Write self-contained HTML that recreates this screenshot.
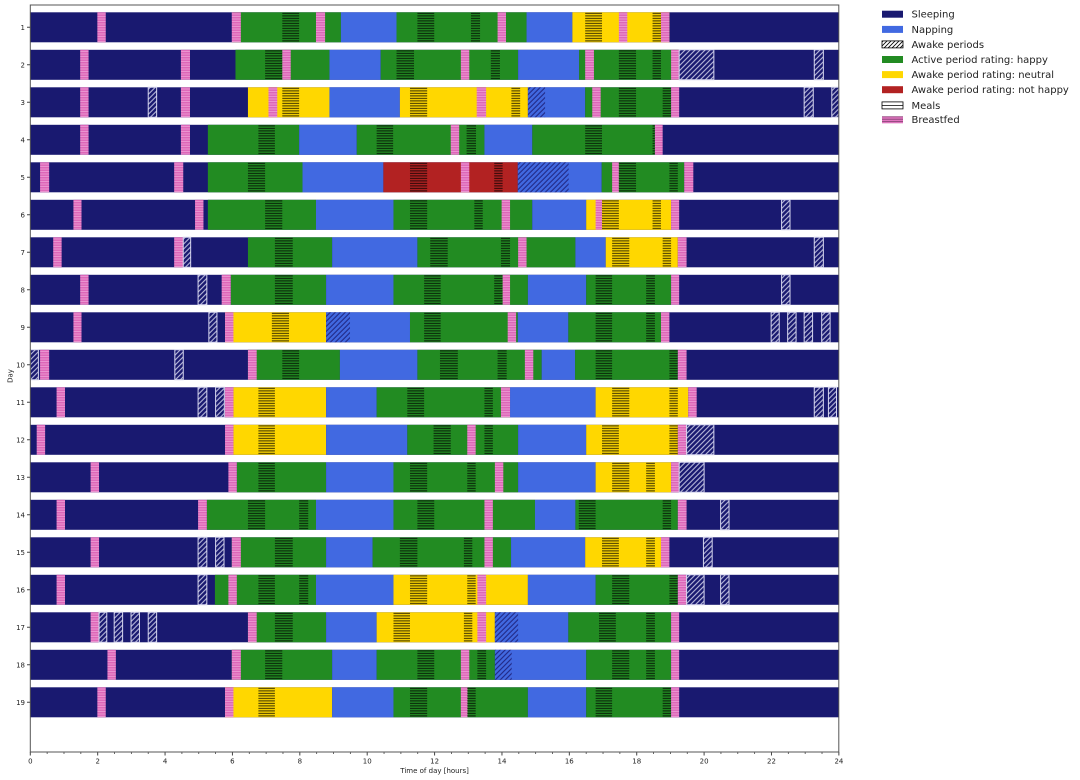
<!DOCTYPE html>
<html><head><meta charset="utf-8">
<style>
html,body{margin:0;padding:0;background:#fff;}
svg{display:block;}
.S{fill:#191970}.N{fill:#4169e1}.G{fill:#228b22}.Y{fill:#ffd700}.R{fill:#b22222}
.M{fill:url(#meal)}.B{fill:url(#bf)}
.A{fill:url(#awS);stroke:#d6d6ee;stroke-width:1;vector-effect:non-scaling-stroke}
.AN{fill:url(#awN)}
.t{font-family:"DejaVu Sans","Liberation Sans",sans-serif;font-size:7px;fill:#222}
.lg{font-family:"DejaVu Sans","Liberation Sans",sans-serif;font-size:10px;fill:#222}
</style></head>
<body>
<svg width="1080" height="780" viewBox="0 0 1080 780" xmlns="http://www.w3.org/2000/svg">
<defs>
<pattern id="meal" patternUnits="userSpaceOnUse" width="10" height="2.5" patternTransform="scale(0.029682,1)">
<rect x="0" y="0.6" width="10" height="1" fill="#000" fill-opacity="0.8"/></pattern>
<pattern id="bf" patternUnits="userSpaceOnUse" width="10" height="2.5" patternTransform="scale(0.029682,1)">
<rect x="0" y="0" width="10" height="2.5" fill="#dd66b8"/><rect x="0" y="1.4" width="10" height="0.6" fill="#f4b8e2"/></pattern>
<pattern id="awS" patternUnits="userSpaceOnUse" width="5" height="5" patternTransform="scale(0.029682,1)">
<path d="M-1,6 L6,-1 M-1,1 L1,-1 M4,6 L6,4" stroke="#dcdcf2" stroke-width="0.9" fill="none"/></pattern>
<pattern id="awN" patternUnits="userSpaceOnUse" width="5" height="5" patternTransform="scale(0.029682,1)">
<path d="M-1,6 L6,-1 M-1,1 L1,-1 M4,6 L6,4" stroke="#191970" stroke-width="0.9" fill="none"/></pattern>
<pattern id="awL" patternUnits="userSpaceOnUse" width="4" height="4">
<path d="M-1,5 L5,-1 M-1,1 L1,-1 M3,5 L5,3" stroke="#000" stroke-width="0.8" fill="none"/></pattern>
<pattern id="bfL" patternUnits="userSpaceOnUse" width="4" height="2.4">
<rect width="4" height="2.4" fill="#e377c2"/><rect y="1.2" width="4" height="0.8" fill="#7a3a6a"/></pattern>
</defs>

<g transform="translate(30.3,0) scale(33.69,1)">
<!-- Row 1 -->
<g transform="translate(0,12.3)">
<rect class="S" x="0" width="24" height="30"/>
<rect class="G" x="6.0" width="3.22" height="30"/><rect class="N" x="9.22" width="1.65" height="30"/><rect class="G" x="10.87" width="3.86" height="30"/><rect class="N" x="14.73" width="1.36" height="30"/><rect class="Y" x="16.09" width="2.88" height="30"/>
<rect class="B" x="1.99" width="0.25" height="30"/><rect class="B" x="5.98" width="0.27" height="30"/><rect class="M" x="7.48" width="0.5" height="30"/><rect class="B" x="8.48" width="0.27" height="30"/><rect class="M" x="11.49" width="0.5" height="30"/><rect class="M" x="13.08" width="0.27" height="30"/><rect class="B" x="13.87" width="0.25" height="30"/><rect class="M" x="16.47" width="0.5" height="30"/><rect class="B" x="17.47" width="0.25" height="30"/><rect class="M" x="18.47" width="0.25" height="30"/><rect class="B" x="18.72" width="0.25" height="30"/>
</g>
<!-- Row 2 -->
<g transform="translate(0,49.8)">
<rect class="S" x="0" width="24" height="30"/>
<rect class="G" x="6.09" width="2.79" height="30"/><rect class="N" x="8.88" width="1.52" height="30"/><rect class="G" x="10.4" width="4.08" height="30"/><rect class="N" x="14.48" width="1.81" height="30"/><rect class="G" x="16.29" width="2.97" height="30"/>
<rect class="B" x="1.48" width="0.25" height="30"/><rect class="B" x="4.47" width="0.27" height="30"/><rect class="M" x="6.97" width="0.51" height="30"/><rect class="B" x="7.48" width="0.25" height="30"/><rect class="M" x="10.87" width="0.52" height="30"/><rect class="B" x="12.78" width="0.25" height="30"/><rect class="M" x="13.67" width="0.27" height="30"/><rect class="B" x="16.47" width="0.26" height="30"/><rect class="M" x="17.47" width="0.51" height="30"/><rect class="M" x="18.47" width="0.25" height="30"/><rect class="B" x="19.02" width="0.24" height="30"/><rect class="A" x="19.26" width="1.03" height="30"/><rect class="A" x="23.27" width="0.27" height="30"/>
</g>
<!-- Row 3 -->
<g transform="translate(0,87.3)">
<rect class="S" x="0" width="24" height="30"/>
<rect class="Y" x="6.46" width="2.42" height="30"/><rect class="N" x="8.88" width="2.09" height="30"/><rect class="Y" x="10.97" width="3.8" height="30"/><rect class="N" x="14.77" width="1.7" height="30"/><rect class="G" x="16.47" width="2.55" height="30"/>
<rect class="B" x="1.48" width="0.25" height="30"/><rect class="A" x="3.5" width="0.25" height="30"/><rect class="B" x="4.47" width="0.27" height="30"/><rect class="B" x="7.07" width="0.26" height="30"/><rect class="M" x="7.48" width="0.5" height="30"/><rect class="M" x="11.27" width="0.51" height="30"/><rect class="B" x="13.25" width="0.28" height="30"/><rect class="M" x="14.28" width="0.26" height="30"/><rect class="AN" x="14.77" width="0.51" height="30"/><rect class="B" x="16.68" width="0.25" height="30"/><rect class="M" x="17.47" width="0.51" height="30"/><rect class="M" x="18.77" width="0.25" height="30"/><rect class="B" x="19.02" width="0.24" height="30"/><rect class="A" x="22.97" width="0.27" height="30"/><rect class="A" x="23.79" width="0.21" height="30"/>
</g>
<!-- Row 4 -->
<g transform="translate(0,124.8)">
<rect class="S" x="0" width="24" height="30"/>
<rect class="G" x="5.27" width="2.71" height="30"/><rect class="N" x="7.98" width="1.71" height="30"/><rect class="G" x="9.69" width="3.79" height="30"/><rect class="N" x="13.48" width="1.42" height="30"/><rect class="G" x="14.9" width="3.64" height="30"/>
<rect class="B" x="1.48" width="0.25" height="30"/><rect class="B" x="4.47" width="0.27" height="30"/><rect class="M" x="6.77" width="0.49" height="30"/><rect class="M" x="10.28" width="0.49" height="30"/><rect class="B" x="12.48" width="0.25" height="30"/><rect class="M" x="12.95" width="0.28" height="30"/><rect class="M" x="16.47" width="0.5" height="30"/><rect class="M" x="18.47" width="0.08" height="30"/><rect class="B" x="18.54" width="0.23" height="30"/>
</g>
<!-- Row 5 -->
<g transform="translate(0,162.3)">
<rect class="S" x="0" width="24" height="30"/>
<rect class="G" x="5.27" width="2.81" height="30"/><rect class="N" x="8.08" width="2.4" height="30"/><rect class="R" x="10.48" width="3.99" height="30"/><rect class="N" x="14.47" width="2.49" height="30"/><rect class="G" x="16.96" width="2.45" height="30"/>
<rect class="B" x="0.29" width="0.27" height="30"/><rect class="B" x="4.27" width="0.27" height="30"/><rect class="M" x="6.46" width="0.51" height="30"/><rect class="M" x="11.27" width="0.51" height="30"/><rect class="B" x="12.78" width="0.25" height="30"/><rect class="M" x="13.77" width="0.25" height="30"/><rect class="AN" x="14.47" width="1.51" height="30"/><rect class="B" x="17.27" width="0.2" height="30"/><rect class="M" x="17.47" width="0.51" height="30"/><rect class="M" x="18.97" width="0.25" height="30"/><rect class="B" x="19.41" width="0.27" height="30"/>
</g>
<!-- Row 6 -->
<g transform="translate(0,199.8)">
<rect class="S" x="0" width="24" height="30"/>
<rect class="G" x="5.27" width="3.21" height="30"/><rect class="N" x="8.48" width="2.3" height="30"/><rect class="G" x="10.78" width="4.12" height="30"/><rect class="N" x="14.9" width="1.6" height="30"/><rect class="Y" x="16.5" width="2.52" height="30"/>
<rect class="B" x="1.28" width="0.24" height="30"/><rect class="B" x="4.89" width="0.25" height="30"/><rect class="M" x="6.97" width="0.51" height="30"/><rect class="M" x="11.27" width="0.51" height="30"/><rect class="M" x="13.18" width="0.25" height="30"/><rect class="B" x="13.99" width="0.25" height="30"/><rect class="B" x="16.78" width="0.19" height="30"/><rect class="M" x="16.97" width="0.5" height="30"/><rect class="M" x="18.47" width="0.25" height="30"/><rect class="B" x="19.02" width="0.24" height="30"/><rect class="A" x="22.3" width="0.25" height="30"/>
</g>
<!-- Row 7 -->
<g transform="translate(0,237.3)">
<rect class="S" x="0" width="24" height="30"/>
<rect class="G" x="6.46" width="2.5" height="30"/><rect class="N" x="8.96" width="2.53" height="30"/><rect class="G" x="11.49" width="4.69" height="30"/><rect class="N" x="16.18" width="0.9" height="30"/><rect class="Y" x="17.08" width="2.14" height="30"/>
<rect class="B" x="0.68" width="0.25" height="30"/><rect class="B" x="4.27" width="0.27" height="30"/><rect class="A" x="4.54" width="0.22" height="30"/><rect class="M" x="7.26" width="0.53" height="30"/><rect class="M" x="11.87" width="0.52" height="30"/><rect class="M" x="13.97" width="0.27" height="30"/><rect class="B" x="14.48" width="0.25" height="30"/><rect class="M" x="17.27" width="0.51" height="30"/><rect class="M" x="18.77" width="0.25" height="30"/><rect class="B" x="19.22" width="0.26" height="30"/><rect class="A" x="23.27" width="0.27" height="30"/>
</g>
<!-- Row 8 -->
<g transform="translate(0,274.8)">
<rect class="S" x="0" width="24" height="30"/>
<rect class="G" x="5.95" width="2.83" height="30"/><rect class="N" x="8.78" width="2.0" height="30"/><rect class="G" x="10.78" width="3.99" height="30"/><rect class="N" x="14.77" width="1.73" height="30"/><rect class="G" x="16.5" width="2.52" height="30"/>
<rect class="B" x="1.48" width="0.25" height="30"/><rect class="A" x="4.98" width="0.26" height="30"/><rect class="B" x="5.68" width="0.27" height="30"/><rect class="M" x="7.26" width="0.53" height="30"/><rect class="M" x="11.69" width="0.49" height="30"/><rect class="M" x="13.77" width="0.25" height="30"/><rect class="B" x="14.02" width="0.22" height="30"/><rect class="M" x="16.78" width="0.49" height="30"/><rect class="M" x="18.28" width="0.26" height="30"/><rect class="B" x="19.02" width="0.24" height="30"/><rect class="A" x="22.3" width="0.25" height="30"/>
</g>
<!-- Row 9 -->
<g transform="translate(0,312.3)">
<rect class="S" x="0" width="24" height="30"/>
<rect class="Y" x="5.78" width="3.0" height="30"/><rect class="N" x="8.78" width="2.49" height="30"/><rect class="G" x="11.27" width="3.2" height="30"/><rect class="N" x="14.47" width="1.5" height="30"/><rect class="G" x="15.97" width="2.75" height="30"/>
<rect class="B" x="1.28" width="0.24" height="30"/><rect class="A" x="5.3" width="0.24" height="30"/><rect class="B" x="5.78" width="0.25" height="30"/><rect class="M" x="7.17" width="0.51" height="30"/><rect class="AN" x="8.78" width="0.71" height="30"/><rect class="M" x="11.69" width="0.49" height="30"/><rect class="B" x="14.17" width="0.25" height="30"/><rect class="M" x="16.78" width="0.49" height="30"/><rect class="M" x="18.28" width="0.26" height="30"/><rect class="B" x="18.72" width="0.25" height="30"/><rect class="A" x="21.99" width="0.24" height="30"/><rect class="A" x="22.48" width="0.25" height="30"/><rect class="A" x="22.97" width="0.25" height="30"/><rect class="A" x="23.49" width="0.25" height="30"/>
</g>
<!-- Row 10 -->
<g transform="translate(0,349.8)">
<rect class="S" x="0" width="24" height="30"/>
<rect class="G" x="6.46" width="2.73" height="30"/><rect class="N" x="9.19" width="2.3" height="30"/><rect class="G" x="11.49" width="3.69" height="30"/><rect class="N" x="15.18" width="0.99" height="30"/><rect class="G" x="16.17" width="3.05" height="30"/>
<rect class="A" x="0" width="0.24" height="30"/><rect class="B" x="0.29" width="0.27" height="30"/><rect class="A" x="4.29" width="0.25" height="30"/><rect class="B" x="6.46" width="0.26" height="30"/><rect class="M" x="7.48" width="0.5" height="30"/><rect class="M" x="12.16" width="0.53" height="30"/><rect class="M" x="13.87" width="0.27" height="30"/><rect class="B" x="14.68" width="0.25" height="30"/><rect class="M" x="16.78" width="0.49" height="30"/><rect class="M" x="18.97" width="0.25" height="30"/><rect class="B" x="19.22" width="0.26" height="30"/>
</g>
<!-- Row 11 -->
<g transform="translate(0,387.3)">
<rect class="S" x="0" width="24" height="30"/>
<rect class="Y" x="6.03" width="2.75" height="30"/><rect class="N" x="8.78" width="1.5" height="30"/><rect class="G" x="10.28" width="3.96" height="30"/><rect class="N" x="14.24" width="2.54" height="30"/><rect class="Y" x="16.78" width="2.75" height="30"/>
<rect class="B" x="0.78" width="0.25" height="30"/><rect class="A" x="4.98" width="0.26" height="30"/><rect class="A" x="5.5" width="0.26" height="30"/><rect class="B" x="5.78" width="0.25" height="30"/><rect class="M" x="6.77" width="0.49" height="30"/><rect class="M" x="11.19" width="0.5" height="30"/><rect class="M" x="13.48" width="0.25" height="30"/><rect class="B" x="13.97" width="0.27" height="30"/><rect class="M" x="17.27" width="0.51" height="30"/><rect class="M" x="18.97" width="0.25" height="30"/><rect class="B" x="19.53" width="0.25" height="30"/><rect class="A" x="23.27" width="0.27" height="30"/><rect class="A" x="23.69" width="0.24" height="30"/>
</g>
<!-- Row 12 -->
<g transform="translate(0,424.8)">
<rect class="S" x="0" width="24" height="30"/>
<rect class="Y" x="6.03" width="2.75" height="30"/><rect class="N" x="8.78" width="2.41" height="30"/><rect class="G" x="11.19" width="3.29" height="30"/><rect class="N" x="14.48" width="2.02" height="30"/><rect class="Y" x="16.5" width="2.72" height="30"/>
<rect class="B" x="0.19" width="0.25" height="30"/><rect class="B" x="5.78" width="0.25" height="30"/><rect class="M" x="6.77" width="0.49" height="30"/><rect class="M" x="11.97" width="0.51" height="30"/><rect class="B" x="12.97" width="0.25" height="30"/><rect class="M" x="13.48" width="0.25" height="30"/><rect class="M" x="16.97" width="0.5" height="30"/><rect class="M" x="18.97" width="0.25" height="30"/><rect class="B" x="19.22" width="0.26" height="30"/><rect class="A" x="19.48" width="0.81" height="30"/>
</g>
<!-- Row 13 -->
<g transform="translate(0,462.3)">
<rect class="S" x="0" width="24" height="30"/>
<rect class="G" x="6.13" width="2.65" height="30"/><rect class="N" x="8.78" width="2.0" height="30"/><rect class="G" x="10.78" width="3.7" height="30"/><rect class="N" x="14.48" width="2.3" height="30"/><rect class="Y" x="16.78" width="2.24" height="30"/>
<rect class="B" x="1.79" width="0.25" height="30"/><rect class="B" x="5.88" width="0.25" height="30"/><rect class="M" x="6.77" width="0.49" height="30"/><rect class="M" x="11.27" width="0.51" height="30"/><rect class="M" x="12.97" width="0.25" height="30"/><rect class="B" x="13.79" width="0.25" height="30"/><rect class="M" x="17.27" width="0.51" height="30"/><rect class="M" x="18.28" width="0.26" height="30"/><rect class="B" x="19.02" width="0.24" height="30"/><rect class="A" x="19.26" width="0.74" height="30"/>
</g>
<!-- Row 14 -->
<g transform="translate(0,499.8)">
<rect class="S" x="0" width="24" height="30"/>
<rect class="G" x="5.24" width="3.24" height="30"/><rect class="N" x="8.48" width="2.3" height="30"/><rect class="G" x="10.78" width="4.2" height="30"/><rect class="N" x="14.98" width="1.2" height="30"/><rect class="G" x="16.18" width="3.04" height="30"/>
<rect class="B" x="0.78" width="0.25" height="30"/><rect class="B" x="4.98" width="0.26" height="30"/><rect class="M" x="6.46" width="0.51" height="30"/><rect class="M" x="7.98" width="0.27" height="30"/><rect class="M" x="11.49" width="0.5" height="30"/><rect class="B" x="13.48" width="0.25" height="30"/><rect class="M" x="16.28" width="0.5" height="30"/><rect class="M" x="18.77" width="0.25" height="30"/><rect class="B" x="19.22" width="0.26" height="30"/><rect class="A" x="20.49" width="0.25" height="30"/>
</g>
<!-- Row 15 -->
<g transform="translate(0,537.3)">
<rect class="S" x="0" width="24" height="30"/>
<rect class="G" x="5.98" width="2.8" height="30"/><rect class="N" x="8.78" width="1.38" height="30"/><rect class="G" x="10.16" width="4.11" height="30"/><rect class="N" x="14.27" width="2.2" height="30"/><rect class="Y" x="16.47" width="2.25" height="30"/>
<rect class="B" x="1.79" width="0.25" height="30"/><rect class="A" x="4.98" width="0.26" height="30"/><rect class="A" x="5.5" width="0.25" height="30"/><rect class="B" x="5.98" width="0.27" height="30"/><rect class="M" x="7.26" width="0.53" height="30"/><rect class="M" x="10.97" width="0.52" height="30"/><rect class="M" x="12.87" width="0.25" height="30"/><rect class="B" x="13.48" width="0.25" height="30"/><rect class="M" x="16.97" width="0.5" height="30"/><rect class="M" x="18.28" width="0.26" height="30"/><rect class="B" x="18.72" width="0.25" height="30"/><rect class="A" x="19.98" width="0.26" height="30"/>
</g>
<!-- Row 16 -->
<g transform="translate(0,574.8)">
<rect class="S" x="0" width="24" height="30"/>
<rect class="G" x="5.48" width="3.0" height="30"/><rect class="N" x="8.48" width="2.3" height="30"/><rect class="Y" x="10.78" width="3.99" height="30"/><rect class="N" x="14.77" width="2.01" height="30"/><rect class="G" x="16.78" width="2.44" height="30"/>
<rect class="B" x="0.78" width="0.25" height="30"/><rect class="A" x="4.98" width="0.26" height="30"/><rect class="B" x="5.88" width="0.25" height="30"/><rect class="M" x="6.77" width="0.49" height="30"/><rect class="M" x="7.98" width="0.27" height="30"/><rect class="M" x="11.27" width="0.51" height="30"/><rect class="M" x="12.97" width="0.25" height="30"/><rect class="B" x="13.27" width="0.26" height="30"/><rect class="M" x="17.27" width="0.51" height="30"/><rect class="M" x="18.97" width="0.25" height="30"/><rect class="B" x="19.22" width="0.26" height="30"/><rect class="A" x="19.48" width="0.52" height="30"/><rect class="A" x="20.49" width="0.25" height="30"/>
</g>
<!-- Row 17 -->
<g transform="translate(0,612.3)">
<rect class="S" x="0" width="24" height="30"/>
<rect class="G" x="6.46" width="2.32" height="30"/><rect class="N" x="8.78" width="1.5" height="30"/><rect class="Y" x="10.28" width="3.51" height="30"/><rect class="N" x="13.79" width="2.18" height="30"/><rect class="G" x="15.97" width="3.05" height="30"/>
<rect class="B" x="1.79" width="0.25" height="30"/><rect class="A" x="2.04" width="0.23" height="30"/><rect class="A" x="2.49" width="0.25" height="30"/><rect class="A" x="2.99" width="0.25" height="30"/><rect class="A" x="3.5" width="0.25" height="30"/><rect class="B" x="6.46" width="0.26" height="30"/><rect class="M" x="7.26" width="0.53" height="30"/><rect class="M" x="10.78" width="0.49" height="30"/><rect class="M" x="12.87" width="0.25" height="30"/><rect class="B" x="13.27" width="0.26" height="30"/><rect class="AN" x="13.79" width="0.69" height="30"/><rect class="M" x="16.88" width="0.5" height="30"/><rect class="M" x="18.28" width="0.26" height="30"/><rect class="B" x="19.02" width="0.24" height="30"/>
</g>
<!-- Row 18 -->
<g transform="translate(0,649.8)">
<rect class="S" x="0" width="24" height="30"/>
<rect class="G" x="5.98" width="2.98" height="30"/><rect class="N" x="8.96" width="1.32" height="30"/><rect class="G" x="10.28" width="3.51" height="30"/><rect class="N" x="13.79" width="2.71" height="30"/><rect class="G" x="16.5" width="2.52" height="30"/>
<rect class="B" x="2.29" width="0.25" height="30"/><rect class="B" x="5.98" width="0.27" height="30"/><rect class="M" x="6.97" width="0.51" height="30"/><rect class="M" x="11.49" width="0.5" height="30"/><rect class="B" x="12.78" width="0.25" height="30"/><rect class="M" x="13.27" width="0.26" height="30"/><rect class="AN" x="13.79" width="0.5" height="30"/><rect class="M" x="17.27" width="0.51" height="30"/><rect class="M" x="18.28" width="0.26" height="30"/><rect class="B" x="19.02" width="0.24" height="30"/>
</g>
<!-- Row 19 -->
<g transform="translate(0,687.3)">
<rect class="S" x="0" width="24" height="30"/>
<rect class="Y" x="5.78" width="3.18" height="30"/><rect class="N" x="8.96" width="1.82" height="30"/><rect class="G" x="10.78" width="3.99" height="30"/><rect class="N" x="14.77" width="1.73" height="30"/><rect class="G" x="16.5" width="2.52" height="30"/>
<rect class="B" x="1.99" width="0.25" height="30"/><rect class="B" x="5.78" width="0.25" height="30"/><rect class="M" x="6.77" width="0.49" height="30"/><rect class="M" x="11.27" width="0.51" height="30"/><rect class="B" x="12.78" width="0.2" height="30"/><rect class="M" x="12.97" width="0.25" height="30"/><rect class="M" x="16.78" width="0.49" height="30"/><rect class="M" x="18.77" width="0.25" height="30"/><rect class="B" x="19.02" width="0.24" height="30"/>
</g>

<!-- x ticks -->
<path d="M0 752v3.5M2 752v3.5M4 752v3.5M6 752v3.5M8 752v3.5M10 752v3.5M12 752v3.5M14 752v3.5M16 752v3.5M18 752v3.5M20 752v3.5M22 752v3.5M24 752v3.5" stroke="#444" stroke-width="1" vector-effect="non-scaling-stroke" fill="none"/>
<path d="M0.5 752v2M1 752v2M1.5 752v2M2.5 752v2M3 752v2M3.5 752v2M4.5 752v2M5 752v2M5.5 752v2M6.5 752v2M7 752v2M7.5 752v2M8.5 752v2M9 752v2M9.5 752v2M10.5 752v2M11 752v2M11.5 752v2M12.5 752v2M13 752v2M13.5 752v2M14.5 752v2M15 752v2M15.5 752v2M16.5 752v2M17 752v2M17.5 752v2M18.5 752v2M19 752v2M19.5 752v2M20.5 752v2M21 752v2M21.5 752v2M22.5 752v2M23 752v2M23.5 752v2" stroke="#444" stroke-width="0.8" vector-effect="non-scaling-stroke" fill="none"/>
</g>

<!-- frame -->
<rect x="30.3" y="5" width="808.5" height="747" fill="none" stroke="#555" stroke-width="1"/>

<!-- y ticks -->
<path d="M27 27.3h3.3M27 64.8h3.3M27 102.3h3.3M27 139.8h3.3M27 177.3h3.3M27 214.8h3.3M27 252.3h3.3M27 289.8h3.3M27 327.3h3.3M27 364.8h3.3M27 402.3h3.3M27 439.8h3.3M27 477.3h3.3M27 514.8h3.3M27 552.3h3.3M27 589.8h3.3M27 627.3h3.3M27 664.8h3.3M27 702.3h3.3" stroke="#444" stroke-width="1"/>

<g class="t" text-anchor="end">
<text x="25" y="29.8">1</text><text x="25" y="67.3">2</text><text x="25" y="104.8">3</text><text x="25" y="142.3">4</text><text x="25" y="179.8">5</text><text x="25" y="217.3">6</text><text x="25" y="254.8">7</text><text x="25" y="292.3">8</text><text x="25" y="329.8">9</text><text x="25" y="367.3">10</text><text x="25" y="404.8">11</text><text x="25" y="442.3">12</text><text x="25" y="479.8">13</text><text x="25" y="517.3">14</text><text x="25" y="554.8">15</text><text x="25" y="592.3">16</text><text x="25" y="629.8">17</text><text x="25" y="667.3">18</text><text x="25" y="704.8">19</text>
</g>
<g class="t" text-anchor="middle">
<text x="30.3" y="763.5">0</text><text x="97.7" y="763.5">2</text><text x="165.1" y="763.5">4</text><text x="232.4" y="763.5">6</text><text x="299.8" y="763.5">8</text><text x="367.2" y="763.5">10</text><text x="434.6" y="763.5">12</text><text x="502" y="763.5">14</text><text x="569.3" y="763.5">16</text><text x="636.7" y="763.5">18</text><text x="704.1" y="763.5">20</text><text x="771.5" y="763.5">22</text><text x="838.9" y="763.5">24</text>
<text x="434.6" y="773">Time of day [hours]</text>
<text transform="translate(12.5,376) rotate(-90)">Day</text>
</g>

<!-- legend -->
<rect x="882" y="10.7" width="21" height="7" fill="#191970"/>
<rect x="882" y="25.9" width="21" height="7" fill="#4169e1"/>
<rect x="882" y="40.9" width="21" height="7" fill="#fff"/><rect x="882" y="40.9" width="21" height="7" fill="url(#awL)" stroke="#000" stroke-width="0.8"/>
<rect x="882" y="56" width="21" height="7" fill="#228b22"/>
<rect x="882" y="71.1" width="21" height="7" fill="#ffd700"/>
<rect x="882" y="86.2" width="21" height="7" fill="#b22222"/>
<rect x="882" y="101.9" width="21" height="7" fill="#fff" stroke="#000" stroke-width="0.8"/><line x1="882" x2="903" y1="105.4" y2="105.4" stroke="#000" stroke-width="0.8"/>
<rect x="882" y="116.3" width="21" height="7" fill="url(#bfL)"/>
<g class="lg">
<text x="911.5" y="17.6">Sleeping</text>
<text x="911.5" y="32.8">Napping</text>
<text x="911.5" y="47.8">Awake periods</text>
<text x="911.5" y="62.9">Active period rating: happy</text>
<text x="911.5" y="78">Awake period rating: neutral</text>
<text x="911.5" y="93.1">Awake period rating: not happy</text>
<text x="911.5" y="108.8">Meals</text>
<text x="911.5" y="123.2">Breastfed</text>
</g>
</svg>
</body></html>
